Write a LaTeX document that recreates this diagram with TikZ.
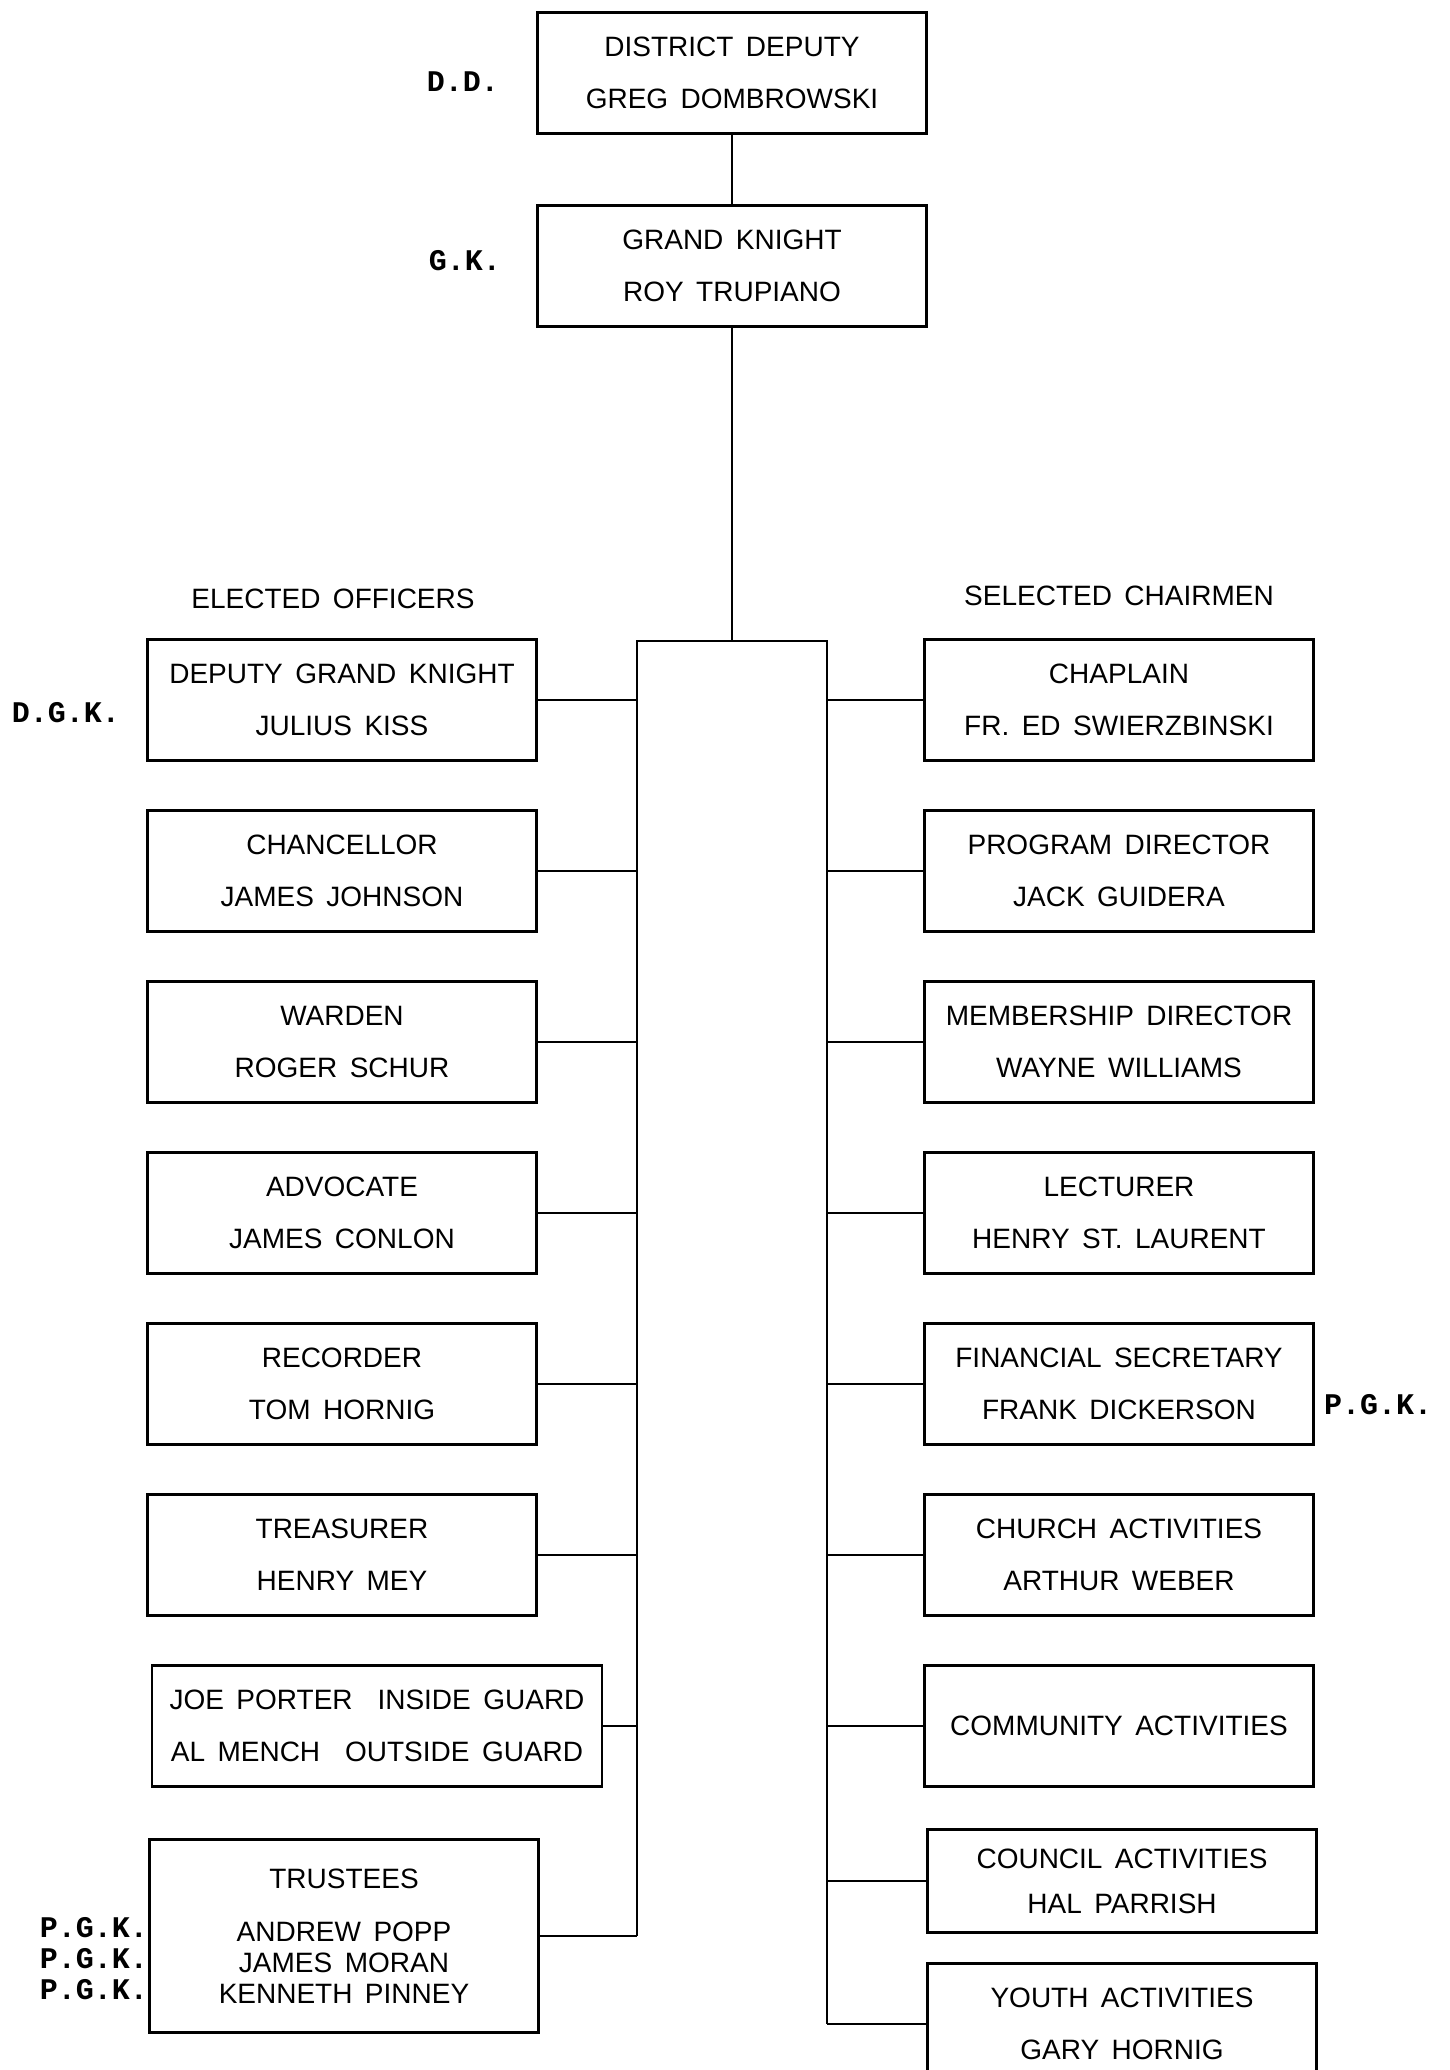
\documentclass[tikz,border=0pt]{standalone}
\usepackage{fontspec}
\setmainfont{Liberation Sans}[WordSpace=1.6]
\newfontfamily\tagfont{Liberation Mono}
\usetikzlibrary{positioning}

\begin{document}
\begin{tikzpicture}[x=1pt,y=1pt,-,thick,line width=2.5pt,node distance=171pt,
    office node/.style={draw,rectangle,line width=2.5pt,minimum width=389pt,minimum height=121pt,align=center,font=\fontsize{28}{52}\selectfont},
    tag node/.style={font=\tagfont\bfseries\fontsize{30}{36}\selectfont},
    head node/.style={font=\fontsize{28}{34}\selectfont}]

            \useasboundingbox (0,0) rectangle (1449,-2070);
            \clip (0,0) rectangle (1449,-2070);

            \node[office node] (dd) at (732,-73) {DISTRICT DEPUTY\\GREG DOMBROWSKI};
            \node[office node] (gk) [below of = dd, node distance=193pt] {GRAND KNIGHT\\ROY TRUPIANO};
            \node[coordinate] (top) [below of = gk, node distance=375pt] {};
            \node[coordinate] (ltop) [left of = top, node distance=95pt] {};
            \node[coordinate] (rtop) [right of = top, node distance=95pt] {};

            % elected officers
            \node[office node] (dgk) at (342,-700) {DEPUTY GRAND KNIGHT\\JULIUS KISS};
            \node[office node] (chan) [below of = dgk] {CHANCELLOR\\JAMES JOHNSON};
            \node[office node] (ward) [below of = chan] {WARDEN\\ROGER SCHUR};
            \node[office node] (adv) [below of = ward] {ADVOCATE\\JAMES CONLON};
            \node[office node] (rec) [below of = adv] {RECORDER\\TOM HORNIG};
            \node[office node] (treas) [below of = rec] {TREASURER\\HENRY MEY};
            \node[office node, minimum width=450pt] (guard) [below of = treas, xshift=35pt] {JOE PORTER~~INSIDE GUARD\\AL MENCH~~OUTSIDE GUARD};
            \node[office node, minimum height=193pt, font=\fontsize{28}{31}\selectfont] (trust) [below of = treas, node distance=381pt, xshift=2pt] {TRUSTEES\\[22pt]ANDREW POPP\\JAMES MORAN\\KENNETH PINNEY};

            % selected chairmen
            \node[office node] (chap) at (1119,-700) {CHAPLAIN\\FR. ED SWIERZBINSKI};
            \node[office node] (prog) [below of = chap] {PROGRAM DIRECTOR\\JACK GUIDERA};
            \node[office node] (memb) [below of = prog] {MEMBERSHIP DIRECTOR\\WAYNE WILLIAMS};
            \node[office node] (lect) [below of = memb] {LECTURER\\HENRY ST. LAURENT};
            \node[office node] (fin) [below of = lect] {FINANCIAL SECRETARY\\FRANK DICKERSON};
            \node[office node] (church) [below of = fin] {CHURCH ACTIVITIES\\ARTHUR WEBER};
            \node[office node] (comm) [below of = church] {COMMUNITY ACTIVITIES};
            \node[office node, minimum height=103pt, font=\fontsize{28}{45}\selectfont] (counc) [below of = comm, node distance=155pt, xshift=3pt] {COUNCIL ACTIVITIES\\HAL PARRISH};
            \node[office node] (youth) [below of = counc, node distance=143pt] {YOUTH ACTIVITIES\\GARY HORNIG};

            \node[head node] (elect) [above of = dgk, node distance=101pt, xshift=-9pt] {ELECTED OFFICERS};
            \node[head node] (select) [above of = chap, node distance=104pt] {SELECTED CHAIRMEN};

            \node[tag node] (ddtag) at (463,-82) {D.D.};
            \node[tag node] (gktag) at (465,-261) {G.K.};
            \node[tag node] (dgktag) at (66,-713) {D.G.K.};
            \node[tag node] (fintag) at (1378,-1405) {P.G.K.};
            \node[tag node] (pgk1) at (94,-1928) {P.G.K.};
            \node[tag node] (pgk2) [below of = pgk1, node distance=31pt] {P.G.K.};
            \node[tag node] (pgk3) [below of = pgk2, node distance=31pt] {P.G.K.};

            \draw[-] (dd) to (gk);
            \draw[-] (gk) to (top);
            \draw[-] (ltop |- trust.east) -- (ltop) -- (rtop) -- (rtop |- youth.west);

            \draw[-] (dgk.east) to (dgk.east -| ltop);
            \draw[-] (chan.east) to (chan.east -| ltop);
            \draw[-] (ward.east) to (ward.east -| ltop);
            \draw[-] (adv.east) to (adv.east -| ltop);
            \draw[-] (rec.east) to (rec.east -| ltop);
            \draw[-] (treas.east) to (treas.east -| ltop);
            \draw[-] (guard.east) to (guard.east -| ltop);
            \draw[-] (trust.east) to (trust.east -| ltop);

            \draw[-] (chap.west) to (chap.west -| rtop);
            \draw[-] (prog.west) to (prog.west -| rtop);
            \draw[-] (memb.west) to (memb.west -| rtop);
            \draw[-] (lect.west) to (lect.west -| rtop);
            \draw[-] (fin.west) to (fin.west -| rtop);
            \draw[-] (church.west) to (church.west -| rtop);
            \draw[-] (comm.west) to (comm.west -| rtop);
            \draw[-] (counc.west) to (counc.west -| rtop);
            \draw[-] (youth.west) to (youth.west -| rtop);

            ;
        \end{tikzpicture}
\end{document}
